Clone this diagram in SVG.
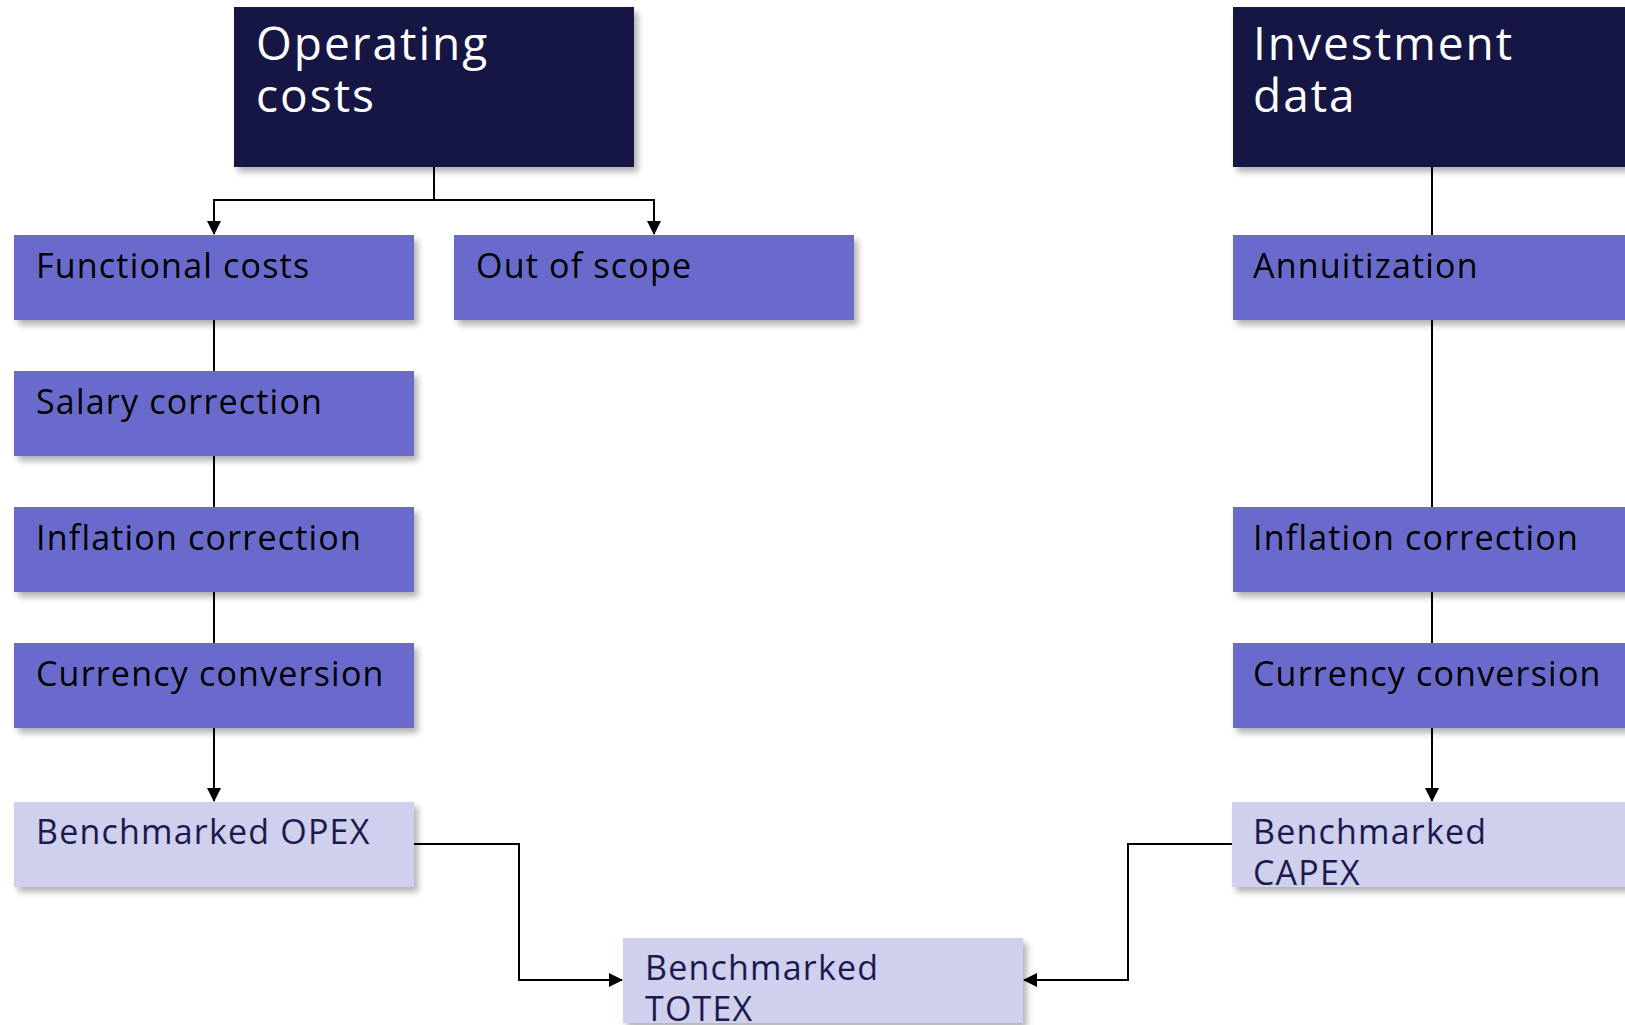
<svg xmlns="http://www.w3.org/2000/svg" width="1625" height="1025" viewBox="0 0 1625 1025">
<style>
.hdr{fill:#181745}
.mid{fill:#6b6bcc}
.lt{fill:#cfcfee}
text{font-family:"Open Sans","Liberation Sans",sans-serif}
.th{font-size:46px;fill:#ffffff;letter-spacing:2px}
.tm{font-size:34px;fill:#000000;letter-spacing:1.2px}
.tl{font-size:34px;fill:#1c1a4c;letter-spacing:1.2px}
.c{fill:none;stroke:#000;stroke-width:2}
</style>
<defs>
<filter id="sh" x="-10%" y="-10%" width="130%" height="140%">
<feDropShadow dx="4" dy="5" stdDeviation="3" flood-color="#000" flood-opacity="0.3"/>
</filter>
<marker id="ah" markerWidth="14" markerHeight="14" refX="13" refY="7" orient="auto" markerUnits="userSpaceOnUse">
<path d="M0,0 L14,7 L0,14 Z" fill="#000"/>
</marker>
</defs>
<rect width="1625" height="1025" fill="#ffffff"/>
<g id="connectors">
<path class="c" d="M434,167 V200 H214 V234" marker-end="url(#ah)"/>
<path class="c" d="M434,200 H654 V234" marker-end="url(#ah)"/>
<path class="c" d="M214,320 V371"/>
<path class="c" d="M214,456 V507"/>
<path class="c" d="M214,592 V643"/>
<path class="c" d="M214,728 V801" marker-end="url(#ah)"/>
<path class="c" d="M414,844 H519 V980 H622" marker-end="url(#ah)"/>
<path class="c" d="M1432,167 V235"/>
<path class="c" d="M1432,320 V507"/>
<path class="c" d="M1432,592 V643"/>
<path class="c" d="M1432,728 V801" marker-end="url(#ah)"/>
<path class="c" d="M1232,844 H1128 V980 H1024" marker-end="url(#ah)"/>
</g>
<g id="operating-costs">
<rect class="hdr" x="234" y="7" width="400" height="160" filter="url(#sh)"/>
<text class="th" x="256" y="60">Operating</text>
<text class="th" x="256" y="112">costs</text>
</g>
<g id="functional-costs">
<rect class="mid" x="14" y="235" width="400" height="85" filter="url(#sh)"/>
<text class="tm" x="36" y="278">Functional costs</text>
</g>
<g id="out-of-scope">
<rect class="mid" x="454" y="235" width="400" height="85" filter="url(#sh)"/>
<text class="tm" x="476" y="278">Out of scope</text>
</g>
<g id="salary-correction">
<rect class="mid" x="14" y="371" width="400" height="85" filter="url(#sh)"/>
<text class="tm" x="36" y="414">Salary correction</text>
</g>
<g id="inflation-correction-opex">
<rect class="mid" x="14" y="507" width="400" height="85" filter="url(#sh)"/>
<text class="tm" x="36" y="550">Inflation correction</text>
</g>
<g id="currency-conversion-opex">
<rect class="mid" x="14" y="643" width="400" height="85" filter="url(#sh)"/>
<text class="tm" x="36" y="686">Currency conversion</text>
</g>
<g id="benchmarked-opex">
<rect class="lt" x="14" y="802" width="400" height="85" filter="url(#sh)"/>
<text class="tl" x="36" y="844">Benchmarked OPEX</text>
</g>
<g id="benchmarked-totex">
<rect class="lt" x="623" y="938" width="400" height="85" filter="url(#sh)"/>
<text class="tl" x="645" y="980">Benchmarked</text>
<text class="tl" x="645" y="1021">TOTEX</text>
</g>
<g id="investment-data">
<rect class="hdr" x="1233" y="7" width="400" height="160" filter="url(#sh)"/>
<text class="th" x="1253" y="60">Investment</text>
<text class="th" x="1253" y="112">data</text>
</g>
<g id="annuitization">
<rect class="mid" x="1233" y="235" width="400" height="85" filter="url(#sh)"/>
<text class="tm" x="1253" y="278">Annuitization</text>
</g>
<g id="inflation-correction-capex">
<rect class="mid" x="1233" y="507" width="400" height="85" filter="url(#sh)"/>
<text class="tm" x="1253" y="550">Inflation correction</text>
</g>
<g id="currency-conversion-capex">
<rect class="mid" x="1233" y="643" width="400" height="85" filter="url(#sh)"/>
<text class="tm" x="1253" y="686">Currency conversion</text>
</g>
<g id="benchmarked-capex">
<rect class="lt" x="1232" y="802" width="400" height="85" filter="url(#sh)"/>
<text class="tl" x="1253" y="844">Benchmarked</text>
<text class="tl" x="1253" y="885">CAPEX</text>
</g>
</svg>
